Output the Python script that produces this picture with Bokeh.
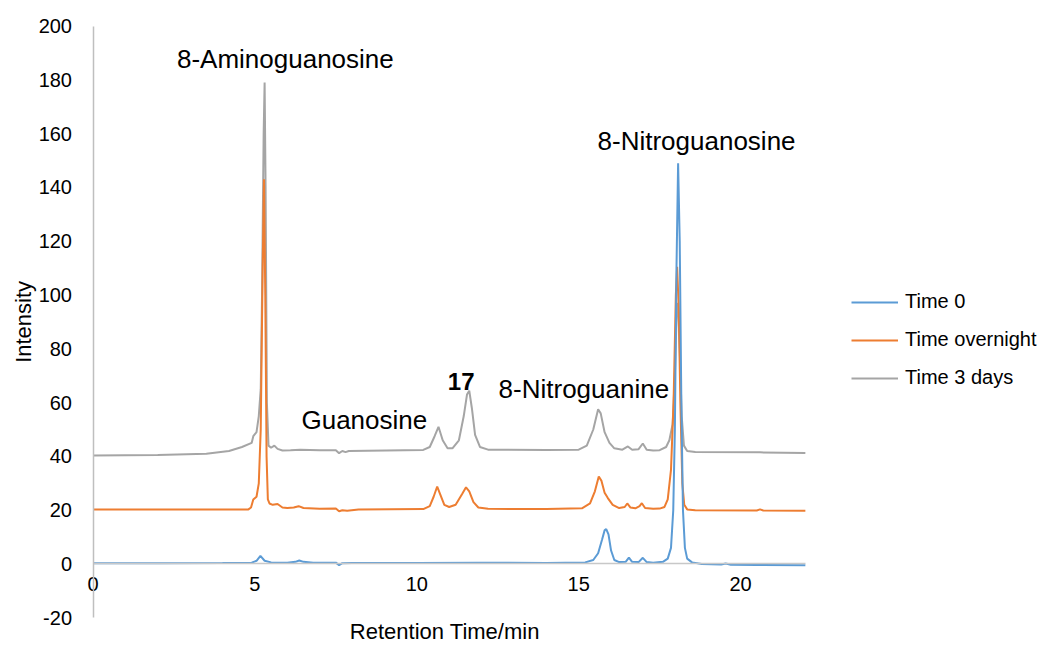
import math
from bokeh.plotting import figure
from bokeh.models import Range1d, Legend, LegendItem, Label, FixedTicker
from bokeh.embed import file_html
from bokeh.resources import INLINE

# ---------------- data ----------------
t0_time = [0, 2, 4, 4.9, 5.05, 5.17, 5.3, 5.5, 6.0, 6.25, 6.37, 6.5, 6.8, 7.5, 7.6, 7.7,
           8.0, 10, 12, 14, 15.2, 15.45, 15.6, 15.72, 15.8, 15.85, 15.92, 16.0, 16.1,
           16.25, 16.45, 16.55, 16.65, 16.85, 16.98, 17.1, 17.3, 17.6, 17.75, 17.85,
           17.92, 17.97, 18.02, 18.07, 18.12, 18.17, 18.22, 18.28, 18.35, 18.5, 18.8,
           19.4, 19.54, 19.7, 20.5, 22]
t0_int = [0.3, 0.3, 0.4, 0.5, 1.2, 3.0, 1.2, 0.6, 0.5, 0.8, 1.3, 0.8, 0.5, 0.5, -0.4, 0.3,
          0.4, 0.4, 0.5, 0.4, 0.6, 1.5, 4, 9, 12.5, 13, 11, 5, 1.5,
          0.7, 0.8, 2.4, 0.8, 0.7, 2.3, 0.7, 0.5, 0.8, 2, 6,
          20, 50, 110, 149, 120, 60, 20, 6, 2, 0.6, 0.0,
          -0.2, 0.2, -0.3, -0.4, -0.5]

on_time = [0, 2, 4, 4.8, 4.88, 4.95, 5.05, 5.12, 5.18, 5.24, 5.28, 5.32, 5.36, 5.4, 5.45,
           5.55, 5.7, 5.85, 6.0, 6.2, 6.35, 6.5, 7.0, 7.5, 7.6, 7.7, 7.85, 8.2, 10.2,
           10.4, 10.52, 10.63, 10.72, 10.85, 11.0, 11.2, 11.4, 11.52, 11.62, 11.75, 11.9,
           12.2, 14, 15.1, 15.35, 15.5, 15.62, 15.7, 15.8, 15.9, 16.05, 16.25, 16.42,
           16.5, 16.6, 16.75, 16.88, 16.95, 17.05, 17.3, 17.5, 17.65, 17.75, 17.85,
           17.93, 18.0, 18.04, 18.09, 18.14, 18.2, 18.26, 18.35, 18.6, 20.5, 20.6, 20.7, 22]
on_int = [20.3, 20.3, 20.3, 20.3, 21, 24, 25, 30, 50, 110, 143, 100, 40, 24, 22.5,
          22, 22.3, 21, 20.8, 21, 21.5, 20.8, 20.5, 20.6, 19.6, 20.0, 19.8, 20.3, 20.4,
          21.5, 25, 28.8, 26, 22, 21.2, 22, 26, 28.5, 27, 23, 21,
          20.5, 20.4, 20.7, 22.5, 27, 32.5, 31, 26.5, 24.5, 22, 20.8, 21.2,
          22.5, 21, 20.7, 21.5, 22.6, 20.8, 20.5, 20.6, 21.2, 24, 35,
          60, 100, 110.5, 95, 60, 30, 22, 20.3, 20, 19.9, 20.3, 19.9, 19.8]

d3_time = [0, 2, 3.5, 4.2, 4.6, 4.9, 4.95, 5.05, 5.12, 5.18, 5.22, 5.27, 5.3, 5.33, 5.37,
           5.42, 5.5, 5.6, 5.7, 5.85, 6.1, 6.4, 7.0, 7.5, 7.6, 7.7, 7.8, 7.9, 10.2,
           10.4, 10.55, 10.67, 10.8, 10.95, 11.1, 11.3, 11.45, 11.55, 11.62, 11.7, 11.8,
           11.95, 12.2, 14, 15.0, 15.25, 15.45, 15.6, 15.68, 15.8, 15.95, 16.1, 16.35,
           16.52, 16.65, 16.85, 16.98, 17.1, 17.3, 17.5, 17.7, 17.8, 17.9, 17.97, 18.03,
           18.07, 18.12, 18.18, 18.25, 18.35, 18.6, 20.6, 22]
d3_int = [40.3, 40.5, 41, 42, 43.5, 45, 47.5, 49, 55, 65, 100, 160, 179, 140, 60,
          44, 43.2, 44, 42.8, 42.2, 42.3, 42.5, 42.3, 42.3, 41.2, 42, 41.6, 42, 42.4,
          43.5, 47.5, 51, 46, 43, 43, 46, 55, 63, 64.4, 58, 48,
          43.5, 42.5, 42.4, 42.5, 44, 50, 57.5, 56, 49, 45, 43, 42.5,
          43.7, 42.5, 42.7, 44.8, 42.5, 42.2, 42.3, 43.5, 46, 52, 70, 95,
          97, 80, 55, 44, 42, 41.6, 41.5, 41.3]

series_names = ["Time 0", "Time overnight", "Time 3 days"]
series_colors = ["#5B9BD5", "#ED7D31", "#A5A5A5"]

x_ticks = [0, 5, 10, 15, 20]
y_ticks = [-20, 0, 20, 40, 60, 80, 100, 120, 140, 160, 180, 200]

annotations = [("8-Aminoguanosine", 5.94, 187.7, "normal"),
               ("Guanosine", 8.38, 53.7, "normal"),
               ("17", 11.37, 68.0, "bold"),
               ("8-Nitroguanine", 15.16, 65.2, "normal"),
               ("8-Nitroguanosine", 18.64, 157.1, "normal")]

FONT = "Liberation Sans"

p = figure(width=1049, height=646, output_backend="svg", toolbar_location=None,
           x_range=Range1d(-2.857, 29.54), y_range=Range1d(-30.67, 209.48),
           min_border_left=0, min_border_right=0, min_border_top=0,
           min_border_bottom=0)
p.outline_line_color = None
p.grid.visible = False
p.background_fill_color = "white"

# x axis crossing at y = 0
xa = p.xaxis[0]
xa.fixed_location = 0
xa.bounds = (0, 22)
xa.ticker = FixedTicker(ticks=x_ticks)
xa.axis_line_color = "#C8C8C8"
xa.axis_line_width = 1.5
xa.major_tick_line_color = None
xa.minor_tick_line_color = None
xa.major_tick_out = 0
xa.major_tick_in = 0
xa.minor_tick_out = 0
xa.major_label_standoff = 13
xa.major_label_text_font = FONT
xa.major_label_text_font_size = "20px"
xa.major_label_text_color = "#000000"

# y axis at x = 0
ya = p.yaxis[0]
ya.fixed_location = 0
ya.bounds = (-20, 200)
ya.ticker = FixedTicker(ticks=y_ticks)
ya.major_label_overrides = {-20: "-20"}
ya.axis_line_color = "#BFBFBF"
ya.axis_line_width = 1.5
ya.major_tick_line_color = None
ya.minor_tick_line_color = None
ya.major_tick_out = 0
ya.major_tick_in = 0
ya.minor_tick_out = 0
ya.major_label_standoff = 21
ya.major_label_text_font = FONT
ya.major_label_text_font_size = "20px"
ya.major_label_text_color = "#000000"

renderers = {}
for name, xs, ys, col in [("Time 3 days", d3_time, d3_int, series_colors[2]),
                          ("Time overnight", on_time, on_int, series_colors[1]),
                          ("Time 0", t0_time, t0_int, series_colors[0])]:
    renderers[name] = p.line(xs, ys, line_color=col, line_width=2)

legend = Legend(items=[LegendItem(label=n, renderers=[renderers[n]]) for n in series_names],
                location=(851, 257), border_line_color=None, background_fill_alpha=0,
                label_text_font=FONT, label_text_font_size="20px",
                label_text_color="#000000",
                glyph_width=47, glyph_height=20, label_height=20, label_standoff=7,
                spacing=15, margin=0, padding=0)
p.add_layout(legend)

for txt, x, y, style in annotations:
    p.add_layout(Label(x=x, y=y, text=txt, text_align="center", text_baseline="middle",
                       text_font=FONT, text_font_size="24px" if style == "bold" else "26px",
                       text_font_style=style, text_color="#000000"))

p.add_layout(Label(x=10.96, y=-25.2, text="Retention  Time/min", text_align="center",
                   text_baseline="middle", text_font=FONT, text_font_size="22px",
                   text_color="#000000"))
p.add_layout(Label(x=-2.15, y=90.0, text="Intensity", text_align="center",
                   text_baseline="middle", angle=math.pi / 2, text_font=FONT,
                   text_font_size="22px", text_color="#000000"))

open("out.html", "w").write(file_html(p, INLINE))
